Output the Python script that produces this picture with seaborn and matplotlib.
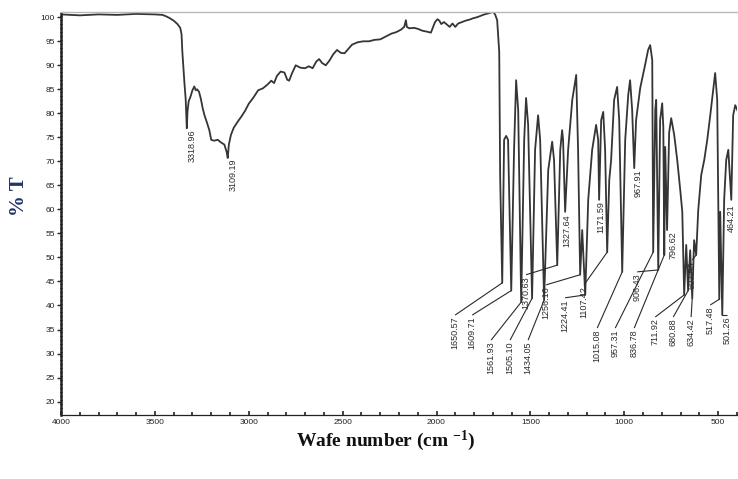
import matplotlib
matplotlib.use("Agg")
import matplotlib.pyplot as plt
import pandas as pd
import seaborn as sns

# ---- spectrum (wavenumber cm-1, %T) ----
wavenumber = [
    4000, 3900, 3800, 3700, 3600, 3500, 3460, 3440, 3420, 3400, 3380, 3365, 3358, 3354, 3348,
    3342, 3336, 3330, 3326, 3320, 3310, 3300, 3290, 3282, 3275, 3265, 3255, 3245, 3235, 3222,
    3210, 3200, 3185, 3165, 3150, 3130, 3118, 3112, 3106, 3095, 3080, 3060, 3040, 3020, 3000,
    2975, 2950, 2925, 2900, 2880, 2865, 2850, 2830, 2810, 2795, 2785, 2770, 2750, 2725, 2700,
    2680, 2660, 2640, 2625, 2610, 2590, 2570, 2550, 2530, 2510, 2490, 2470, 2450, 2420, 2390,
    2360, 2330, 2300, 2270, 2240, 2215, 2190, 2172, 2163, 2158, 2145, 2120, 2100, 2075, 2050,
    2030, 2020, 2008, 1995, 1985, 1975, 1960, 1945, 1930, 1915, 1900, 1885, 1865, 1845, 1825,
    1805, 1785, 1765, 1745, 1725, 1710, 1698, 1688, 1677, 1666, 1661,
    1650, 1640, 1629, 1619, 1602, 1587, 1576, 1565, 1549, 1533, 1523, 1512, 1491, 1475, 1459,
    1448, 1427, 1405, 1384, 1374, 1357, 1341, 1331, 1326, 1315, 1299, 1277, 1256, 1246, 1235,
    1224, 1208, 1192, 1171, 1150, 1139, 1134, 1123, 1112, 1102, 1091, 1080, 1070, 1054, 1038,
    1027, 1011, 995, 979, 969, 958, 947, 937, 915, 889, 873, 862, 851, 846, 835,
    830, 819, 809, 798, 792, 787, 782, 772, 761, 750, 734, 718, 702, 691, 681,
    670, 660, 649, 638, 628, 617, 606, 590, 574, 558, 542, 526, 516, 505, 494,
    489, 478, 468, 457, 446, 430, 420, 409, 393,
]
transmittance = [
    100.6, 100.4, 100.6, 100.5, 100.7, 100.6, 100.5, 100.2, 99.8, 99.3, 98.6, 97.8, 96.5, 93.0, 89.5,
    86.0, 83.0, 76.9, 80.5, 82.5, 83.5, 84.8, 85.6, 84.8, 85.0, 84.5, 83.0, 81.0, 79.5, 78.0,
    76.5, 74.5, 74.3, 74.5, 74.0, 73.5, 72.0, 70.7, 73.5, 75.5, 77.0, 78.2, 79.3, 80.5, 82.0,
    83.3, 84.8, 85.2, 86.0, 86.8, 86.3, 87.8, 88.7, 88.5, 87.0, 86.8, 88.3, 90.0, 89.5, 89.4,
    89.8, 89.4, 90.8, 91.3, 90.5, 90.0, 91.0, 92.3, 93.2, 92.6, 92.5, 93.4, 94.3, 94.8, 95.0,
    95.0, 95.3, 95.4, 96.0, 96.6, 96.9, 97.4, 98.0, 99.4, 98.0, 97.7, 97.8, 97.6, 97.2, 97.0,
    96.8, 97.8, 99.0, 99.6, 99.3, 98.6, 99.0, 98.5, 98.0, 98.7, 98.0, 98.7, 99.0, 99.3, 99.5,
    99.8, 100.0, 100.3, 100.6, 100.8, 101.0, 101.1, 100.6, 99.4, 92.8, 66.8,
    44.7, 74.5, 75.3, 74.5, 43.1, 72.4, 86.9, 80.7, 40.7, 74.5, 83.2, 77.6, 41.5, 72.4, 79.6,
    74.5, 41.1, 68.2, 74.1, 70.3, 48.4, 72.4, 76.5, 74.5, 59.5, 72.4, 82.8, 88.0, 72.4, 46.4,
    55.7, 42.2, 62.0, 72.4, 77.6, 74.5, 62.0, 78.6, 80.3, 72.4, 51.1, 66.1, 70.3, 82.8, 85.5,
    78.6, 47.0, 74.5, 83.8, 86.9, 80.7, 68.6, 78.6, 85.3, 90.1, 93.2, 94.2, 91.1, 51.1, 80.7,
    82.8, 47.4, 78.6, 82.1, 77.0, 50.5, 73.0, 55.7, 76.0, 79.0, 75.5, 70.3, 64.1, 59.5, 42.2,
    52.6, 43.1, 51.5, 41.5, 53.6, 50.5, 59.9, 67.2, 70.3, 74.5, 79.6, 84.9, 88.4, 82.8, 41.3,
    59.5, 38.0, 62.0, 70.3, 72.4, 62.0, 79.6, 81.7, 80.2,
]

# ---- peak annotations ----
peak_text = ["3318.96", "3109.19", "1650.57", "1609.71", "1561.93", "1505.10", "1434.05",
             "1370.63", "1327.64", "1256.16", "1224.41", "1107.42", "1171.59", "1015.08",
             "967.91", "957.31", "906.43", "836.78", "796.62", "711.92", "680.88", "634.42",
             "607.53", "517.48", "501.26", "464.21"]
peak_wn = [3330, 3112, 1650, 1602, 1549, 1491, 1427, 1357, 1315, 1235, 1208, 1091, 1134, 1011,
           947, 846, 819, 787, 772, 681, 660, 638, 617, 494, 478, 430]
peak_T = [76.9, 70.7, 44.7, 43.1, 40.7, 41.5, 41.1, 48.4, 59.5, 46.4, 42.2, 51.1, 62.0, 47.0,
          68.6, 51.1, 47.4, 50.5, 55.7, 42.2, 43.1, 41.5, 50.5, 41.3, 38.0, 62.0]
# label anchor (top of rotated text) and whether a leader line is drawn
label_wn = [3302, 3084, 1901, 1810, 1709, 1608, 1512, 1523, 1304, 1416, 1315, 1214, 1123, 1144,
            926, 1048, 931, 947, 739, 835, 739, 644, 638, 542, 452, 428]
label_T = [76.9, 70.9, 38.0, 38.0, 32.8, 32.8, 32.8, 46.4, 59.3, 44.3, 41.6, 44.3, 62.0, 35.3,
           68.6, 35.3, 47.0, 35.3, 55.7, 37.6, 37.6, 37.6, 49.5, 40.1, 38.0, 61.3]
has_leader = [False, False, True, True, True, True, True, True, False, True, True, True, False, True,
              False, True, True, True, False, True, True, True, True, True, True, False]

x_ticks = [4000, 3500, 3000, 2500, 2000, 1500, 1000, 500]
y_ticks = list(range(20, 101, 5))

sns.set_theme(style="white")
plt.rcParams["font.family"] = ["Liberation Sans", "DejaVu Sans"]
plt.rcParams["mathtext.fontset"] = "custom"
plt.rcParams["mathtext.rm"] = "Liberation Serif:bold"
plt.rcParams["mathtext.bf"] = "Liberation Serif:bold"
plt.rcParams["mathtext.it"] = "Liberation Serif:bold"

W, H = 738, 479
fig = plt.figure(figsize=(W / 100, H / 100), dpi=100)
ax = fig.add_axes([61 / W, 1 - 415 / H, (737 - 61) / W, (415 - 12) / H])

df = pd.DataFrame({"wn": wavenumber, "T": transmittance})
sns.lineplot(data=df, x="wn", y="T", ax=ax, color="#353535", lw=1.3,
             estimator=None, sort=False)

ax.set_xlim(4000, 399.6)
ax.set_ylim(17.2, 101.1)
ax.set_xlabel("")
ax.set_ylabel("")

ax.set_xticks(x_ticks)
ax.set_xticklabels([str(t) for t in x_ticks])
ax.set_xticks(list(range(4000, 399, -100)), minor=True)
ax.set_yticks(y_ticks)
ax.set_yticklabels([str(t) for t in y_ticks])
ax.tick_params(axis="x", which="major", direction="in", length=3, width=1.2,
               labelsize=6, pad=3, colors="#222222", bottom=True)
ax.tick_params(axis="x", which="minor", direction="in", length=2, width=1.2,
               bottom=True, colors="#222222")
ax.tick_params(axis="y", which="major", direction="out", length=3, width=1,
               labelsize=6, pad=1.5, colors="#222222", left=True)

ax.spines["right"].set_visible(False)
ax.spines["top"].set_color("#b8b8b8")
ax.spines["top"].set_linewidth(1.0)
ax.spines["bottom"].set_color("#222222")
ax.spines["bottom"].set_linewidth(0.9)
ax.spines["left"].set_color("#222222")
ax.spines["left"].set_linewidth(1.8)
ax.spines["left"].set_linestyle((0, (0.7, 0.9)))

for txt, pw, pt, lw_, lt, lead in zip(peak_text, peak_wn, peak_T, label_wn, label_T, has_leader):
    if lead:
        ax.plot([pw, lw_], [pt, lt], color="#2a2a2a", lw=0.8, solid_capstyle="butt")
    ax.text(lw_, lt - 0.3, txt, rotation=90, ha="center", va="top", fontsize=6.5,
            color="#2b2b2b", clip_on=False)

fig.text(386 / W, 1 - 441 / H, r"Wafe number (cm $^{-1}$)", ha="center", va="center",
         fontsize=14, fontweight="bold", family="Liberation Serif", color="#111111")
fig.text(19 / W, 1 - 196 / H, "% T", rotation=90, ha="center", va="center",
         fontsize=15, fontweight="bold", family="Liberation Serif", color="#1f3566")

fig.savefig("out.png", dpi=100)
